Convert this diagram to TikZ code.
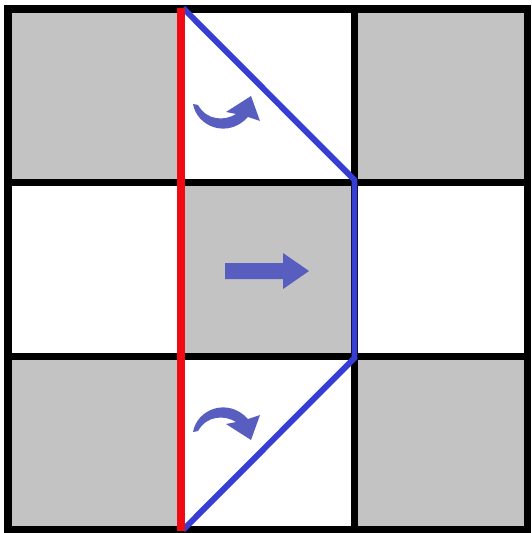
\documentclass[tikz,border=0pt]{standalone}
\definecolor{cellgray}{RGB}{195,195,195}
\definecolor{pathblue}{RGB}{55,62,212}
\definecolor{cutred}{RGB}{240,10,20}
\definecolor{arrowblue}{RGB}{88,94,192}
\tikzset{
  gridline/.style={line width=4pt, black},
  cutline/.style={line width=4.6pt, cutred},
  foldline/.style={line width=3.4pt, pathblue, line join=round},
  turnarrow/.style={fill=arrowblue, draw=none},
}
\begin{document}
\begin{tikzpicture}[x=0.02cm, y=-0.02cm]
  \useasboundingbox (0,0) rectangle (531,533);
  % grid corners
  \coordinate (g00) at (8,9);
  \coordinate (g33) at (527.5,530);
  % shaded cells (corners and centre)
  \fill[cellgray] (8,9) rectangle (181,182.7);
  \fill[cellgray] (354.5,9) rectangle (527.5,182.7);
  \fill[cellgray] (181,182.7) rectangle (354.5,356.3);
  \fill[cellgray] (8,356.3) rectangle (181,530);
  \fill[cellgray] (354.5,356.3) rectangle (527.5,530);
  % grid lines
  \draw[gridline] (g00) rectangle (g33);
  \draw[gridline] (181,9) -- (181,530);
  \draw[gridline] (354.5,9) -- (354.5,530);
  \draw[gridline] (8,182.7) -- (527.5,182.7);
  \draw[gridline] (8,356.3) -- (527.5,356.3);
  % folded outline
  \coordinate (b1) at (183,8);
  \coordinate (b2) at (354.5,180);
  \coordinate (b3) at (354.5,358);
  \coordinate (b4) at (183,530);
  \draw[foldline] (b1) -- (b2) -- (b3) -- (b4);
  % cut line
  \coordinate (r1) at (181,8);
  \coordinate (r2) at (181,531);
  \draw[cutline] (r1) -- (r2);
  % curved arrow, upper triangle
  \fill[turnarrow] (193,104) .. controls (197,127) and (228,139) .. (248,117)
     -- (260,121) -- (251,96) -- (226,112) -- (236,114)
     .. controls (225,121) and (207,121) .. (198,105) -- cycle;
  % curved arrow, lower triangle (mirror image)
  \begin{scope}[shift={(0,536)}, yscale=-1]
    \fill[turnarrow] (193,104) .. controls (197,127) and (228,139) .. (248,117)
       -- (260,121) -- (251,96) -- (226,112) -- (236,114)
       .. controls (225,121) and (207,121) .. (198,105) -- cycle;
  \end{scope}
  % straight arrow, centre cell
  \fill[turnarrow] (225,263) -- (283,263) -- (283,253) -- (309,271)
     -- (283,289) -- (283,279) -- (225,279) -- cycle;
\end{tikzpicture}
\end{document}
